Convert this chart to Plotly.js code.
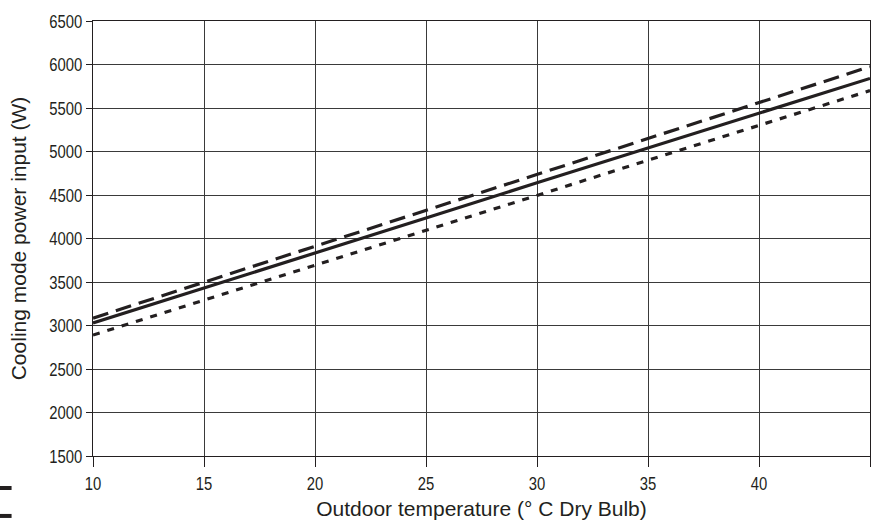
<!DOCTYPE html>
<html>
<head>
<meta charset="utf-8">
<script src="https://cdn.plot.ly/plotly-3.0.1.min.js"></script>
<style>
html,body{margin:0;padding:0;background:#fff;}
#chart{width:879px;height:524px;}
</style>
</head>
<body>
<div id="chart"></div>
<script>
const temps = [10, 15, 20, 25, 30, 35, 40, 45];
const powerSolid  = [3030, 3430, 3835, 4235, 4640, 5040, 5440, 5840];
const powerDashed = [3085, 3498, 3910, 4325, 4735, 5150, 5560, 5975];
const powerDotted = [2890, 3290, 3695, 4095, 4495, 4900, 5300, 5700];
const xTicks = [10, 15, 20, 25, 30, 35, 40, 45];
const yTicks = [1500, 2000, 2500, 3000, 3500, 4000, 4500, 5000, 5500, 6000, 6500];

const tickFont = {family: '"Liberation Sans", Arial, sans-serif', size: 19, color: '#231f20'};
const titleFont = {family: '"Liberation Sans", Arial, sans-serif', size: 21, color: '#231f20'};

const traces = [
  {x: temps, y: powerDashed, mode: 'lines', line: {color: '#231f20', width: 3.2, dash: '16px,8px'}, hoverinfo: 'skip'},
  {x: temps, y: powerSolid, mode: 'lines', line: {color: '#231f20', width: 3.2}, hoverinfo: 'skip'},
  {x: temps, y: powerDotted, mode: 'lines', line: {color: '#231f20', width: 3.2, dash: '7px,8px'}, hoverinfo: 'skip'}
];

const layout = {
  width: 879, height: 524,
  margin: {l: 92.5, r: 9, t: 20.5, b: 68},
  paper_bgcolor: '#fff', plot_bgcolor: '#fff',
  showlegend: false,
  xaxis: {
    range: [10, 45], tickvals: xTicks, ticktext: xTicks.map(String),
    showgrid: true, gridcolor: '#3a3a3a', gridwidth: 1,
    showline: true, linecolor: '#231f20', linewidth: 1, mirror: true,
    ticks: 'outside', ticklen: 10, tickcolor: '#231f20', tickwidth: 1,
    tickfont: tickFont, zeroline: false,
    title: {text: 'Outdoor temperature (° C Dry Bulb)', font: titleFont, standoff: 8}
  },
  yaxis: {
    range: [1500, 6500], tickvals: yTicks, ticktext: yTicks.map(String),
    showgrid: true, gridcolor: '#3a3a3a', gridwidth: 1,
    showline: true, linecolor: '#231f20', linewidth: 1, mirror: true,
    ticks: 'outside', ticklen: 6, tickcolor: '#231f20', tickwidth: 1,
    tickfont: tickFont, zeroline: false,
    title: {text: 'Cooling mode power input (W)', font: titleFont, standoff: 7}
  },
  shapes: [
    {type: 'rect', xref: 'paper', yref: 'paper', x0: -0.12, x1: -0.1048, y0: -0.0689, y1: -0.0781, fillcolor: '#231f20', line: {width: 0}},
    {type: 'rect', xref: 'paper', yref: 'paper', x0: -0.12, x1: -0.1048, y0: -0.1332, y1: -0.1424, fillcolor: '#231f20', line: {width: 0}}
  ]
};

Plotly.newPlot('chart', traces, layout, {displayModeBar: false, staticPlot: true}).then(function (gd) {
  gd.querySelectorAll('.xtick text, .ytick text').forEach(function (t) {
    const w = t.getComputedTextLength();
    t.setAttribute('textLength', (w * 0.78).toFixed(2));
    t.setAttribute('lengthAdjust', 'spacingAndGlyphs');
  });
});
</script>
</body>
</html>
